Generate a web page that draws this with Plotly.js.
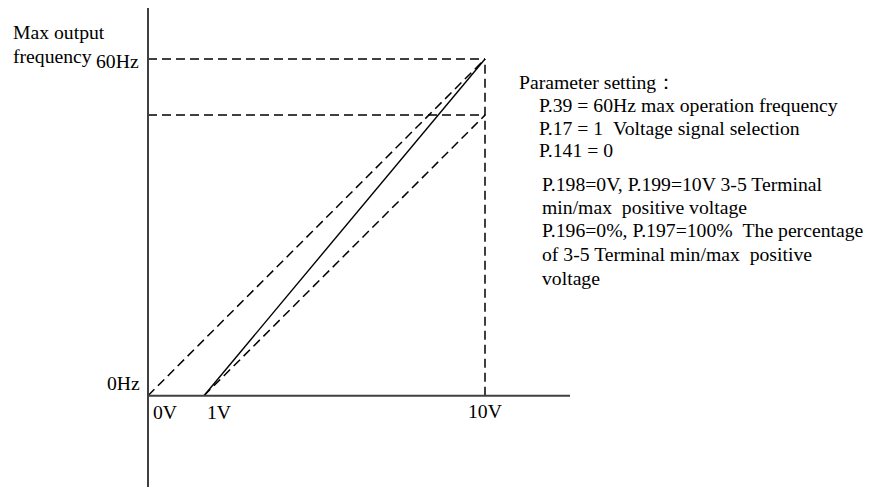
<!DOCTYPE html>
<html>
<head>
<meta charset="utf-8">
<script src="https://cdn.plot.ly/plotly-3.0.1.min.js"></script>
<style>html,body{margin:0;padding:0;background:#fff;}#chart{width:871px;height:488px;}</style>
</head>
<body>
<div id="chart"></div>
<script>
// ---- data (schematic axis units: volts on x, Hz on y) ----
const voltTickPos = [0, 1.66, 10];          // where 0V, 1V, 10V sit on the schematic axis
const voltLabels = ['0V', '1V', '10V'];
const freqTickVals = [0, 60];
const freqLabels = ['0Hz', '60Hz'];
const directX = [0, 10];      const directY = [0, 60];   // dashed 0V→60Hz
const biasX = [1.66, 10];     const biasY = [0, 60];     // solid 1V→60Hz
const biasLowX = [1.66, 10];  const biasLowY = [0, 50];  // dashed 1V→50Hz
const guide60X = [0, 10];     const guide60Y = [60, 60];
const guide50X = [0, 10];     const guide50Y = [50, 50];
const guideVX = [10, 10];     const guideVY = [0, 60];
const yTitleLines = ['Max output', 'frequency'];
const paramHead = 'Parameter setting\uFF1A';
const paramGroup1 = ['P.39 = 60Hz max operation frequency',
                     'P.17 = 1 \u00a0Voltage signal selection',
                     'P.141 = 0'];
const paramGroup2 = ['P.198=0V, P.199=10V 3-5 Terminal',
                     'min/max \u00a0positive voltage',
                     'P.196=0%, P.197=100% \u00a0The percentage',
                     'of 3-5 Terminal min/max \u00a0positive',
                     'voltage'];

// ---- layout helpers ----
const W = 871, H = 488;
const px = v => v / W;
const py = v => 1 - v / H;
const FONT = {family: 'Liberation Serif, Times New Roman, serif', size: 19.7, color: '#000'};
const dashLine = {color: '#000', width: 1.5, dash: '9px,5px'};

function tr(x, y, line) {
  return {x: x, y: y, type: 'scatter', mode: 'lines', line: line, hoverinfo: 'skip', showlegend: false};
}
const traces = [
  tr(guide60X, guide60Y, dashLine),
  tr(guide50X, guide50Y, dashLine),
  tr(guideVX, guideVY, dashLine),
  tr(directX, directY, dashLine),
  tr(biasLowX, biasLowY, dashLine),
  tr(biasX, biasY, {color: '#000', width: 1.4})
];

// axis mapping: 0V at px148, 10V at px485; 0Hz at py395.7, 60Hz at py59
const xPerPx = 10 / (485 - 148);
const yPerPx = 60 / (395.7 - 59);
const xRange = [-148 * xPerPx, (W - 148) * xPerPx];
const yRange = [-(H - 395.7) * yPerPx, 60 + 59 * yPerPx];

const axisColor = '#404040';
const shapes = [
  {type: 'line', xref: 'x', yref: 'paper', x0: 0, x1: 0, y0: py(487), y1: py(8), line: {color: axisColor, width: 2}},
  {type: 'line', xref: 'x', yref: 'y', x0: 0, x1: (570 - 148) * xPerPx, y0: 0, y1: 0, line: {color: axisColor, width: 2}}
];

const annotations = [];
function ann(text, x, y, xanchor, extra) {
  annotations.push(Object.assign({text: text, xref: 'paper', yref: 'paper', x: x, y: y,
    xanchor: xanchor, yanchor: 'middle', showarrow: false, font: FONT}, extra || {}));
}
// y title
ann(yTitleLines[0], px(11), py(32), 'left');
ann(yTitleLines[1], px(11), py(56), 'left');
// y tick labels
ann(freqLabels[1], px(141), py(61), 'right');
ann(freqLabels[0], px(142), py(383), 'right');
// x tick labels
annotations.push({text: voltLabels[0], xref: 'x', yref: 'paper', x: voltTickPos[0], y: py(412), xanchor: 'left', yanchor: 'middle', xshift: 3, showarrow: false, font: FONT});
annotations.push({text: voltLabels[1], xref: 'x', yref: 'paper', x: voltTickPos[1], y: py(412), xanchor: 'left', yanchor: 'middle', xshift: 1, showarrow: false, font: FONT});
annotations.push({text: voltLabels[2], xref: 'x', yref: 'paper', x: voltTickPos[2], y: py(411), xanchor: 'center', yanchor: 'middle', xshift: 0, showarrow: false, font: FONT});
// parameter text
ann(paramHead, px(517), py(82), 'left');
const g1y = [105, 128, 150];
paramGroup1.forEach((t, i) => ann(t, px(537), py(g1y[i]), 'left'));
const g2y = [184, 207, 230, 254, 278];
paramGroup2.forEach((t, i) => ann(t, px(540), py(g2y[i]), 'left'));

const layout = {
  width: W, height: H,
  margin: {l: 0, r: 0, t: 0, b: 0, pad: 0},
  paper_bgcolor: '#fff', plot_bgcolor: '#fff',
  xaxis: {range: xRange, visible: false, fixedrange: true},
  yaxis: {range: yRange, visible: false, fixedrange: true},
  shapes: shapes,
  annotations: annotations,
  showlegend: false
};
Plotly.newPlot('chart', traces, layout, {displayModeBar: false, staticPlot: true});
</script>
</body>
</html>
